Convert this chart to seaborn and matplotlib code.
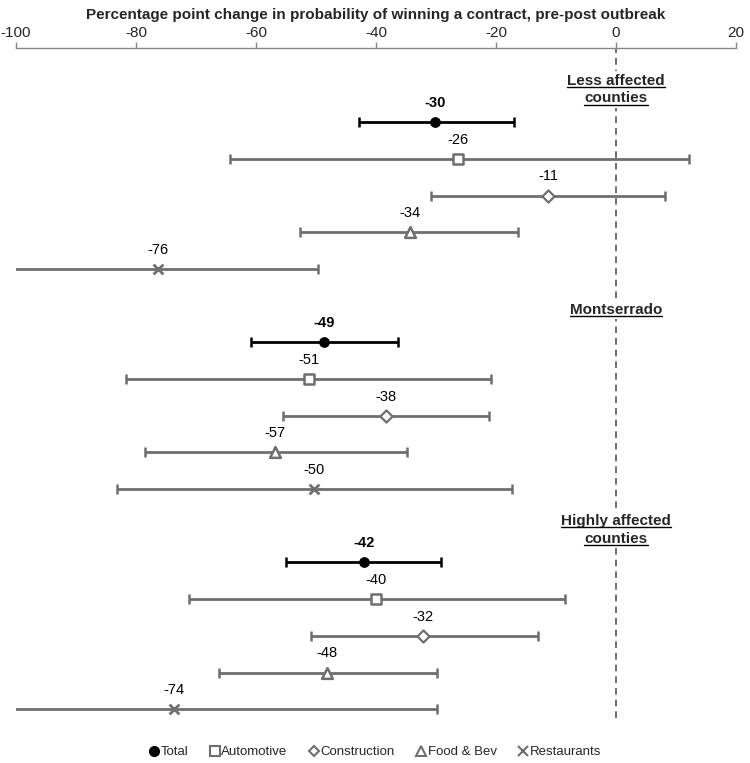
import matplotlib
matplotlib.use("Agg")
import matplotlib.pyplot as plt
import seaborn as sns
import pandas as pd
from matplotlib.lines import Line2D

# values (percentage points)
groups = ["Less affected\ncounties", "Montserrado", "Highly affected\ncounties"]
categories = ["Total", "Automotive", "Construction", "Food & Bev", "Restaurants"]

less_est = [-30.1, -26.3, -11.3, -34.4, -76.4]
less_lo = [-42.9, -64.4, -30.8, -52.6, -105.0]
less_hi = [-17.0, 12.1, 8.2, -16.3, -49.6]

mont_est = [-48.6, -51.2, -38.4, -56.8, -50.4]
mont_lo = [-60.9, -81.7, -55.5, -78.5, -83.1]
mont_hi = [-36.3, -20.9, -21.2, -34.9, -17.3]

high_est = [-42.0, -40.0, -32.1, -48.1, -73.6]
high_lo = [-55.0, -71.2, -50.9, -66.2, -105.0]
high_hi = [-29.2, -8.5, -13.0, -29.8, -29.8]

x_ticks = [-100, -80, -60, -40, -20, 0, 20]

sns.set_style("white")
plt.rcParams["font.family"] = ["Liberation Sans", "DejaVu Sans"]
plt.rcParams["axes.unicode_minus"] = False

GRAY = "#6f6f6f"
styles = {
    "Total": dict(marker="o", color="black", edgecolor="black", lw=0, s=60, bar="black"),
    "Automotive": dict(marker="s", color="white", edgecolor=GRAY, lw=1.8, s=60, bar=GRAY),
    "Construction": dict(marker="D", color="white", edgecolor=GRAY, lw=1.6, s=38, bar=GRAY),
    "Food & Bev": dict(marker="^", color="white", edgecolor=GRAY, lw=1.8, s=60, bar=GRAY),
    "Restaurants": dict(marker="x", color=GRAY, edgecolor=GRAY, lw=2.0, s=50, bar=GRAY),
}

rows = []
for g_i, (grp, est, lo, hi) in enumerate(zip(
        groups, [less_est, mont_est, high_est], [less_lo, mont_lo, high_lo],
        [less_hi, mont_hi, high_hi])):
    for c_i, cat in enumerate(categories):
        rows.append(dict(group=grp, category=cat, est=est[c_i], lo=lo[c_i],
                         hi=hi[c_i], row=g_i * 6 + c_i))
df = pd.DataFrame(rows)

fig = plt.figure(figsize=(7.5, 7.63), dpi=100)
ax = fig.add_axes([16 / 750, 1 - 718 / 763, 720 / 750, (718 - 48) / 763])

ax.axvline(0, color="#555555", lw=1.2, ls=(0, (4, 3)), zorder=1)

for cat in categories:
    st = styles[cat]
    sub = df[df["category"] == cat]
    ax.errorbar(sub["est"], sub["row"],
                xerr=[sub["est"] - sub["lo"], sub["hi"] - sub["est"]],
                fmt="none", ecolor=st["bar"], elinewidth=2.0,
                capsize=3.3, capthick=1.8, zorder=2)
    sns.scatterplot(data=sub, x="est", y="row", marker=st["marker"], s=st["s"],
                    color=st["color"], edgecolor=st["edgecolor"], linewidth=st["lw"],
                    ax=ax, zorder=3, legend=False)
    for _, r in sub.iterrows():
        ax.text(r["est"], r["row"] - 0.52, f"{r['est']:.0f}", ha="center", va="center",
                fontsize=10.5, color="black",
                fontweight="bold" if cat == "Total" else "normal")

ax.set_xlim(-100, 20)
ax.set_ylim(16.24, -2.02)
ax.set_xticks(x_ticks)
ax.set_yticks([])
ax.set_ylabel("")
ax.xaxis.tick_top()
ax.xaxis.set_label_position("top")
ax.set_xlabel("Percentage point change in probability of winning a contract, pre-post outbreak",
              fontsize=11, fontweight="bold", labelpad=5)
ax.tick_params(axis="x", direction="out", length=4, width=1, color="#888888",
               labelsize=11, pad=1.5, top=True, bottom=False)
for side in ["left", "right", "bottom"]:
    ax.spines[side].set_visible(False)
ax.spines["top"].set_color("#888888")
ax.spines["top"].set_linewidth(1.0)

# group headers, bold and underlined, centred on the zero line
header_texts = []
for g_i, grp in enumerate(groups):
    lines = grp.split("\n")
    centre = g_i * 6 - 0.94
    n = len(lines)
    for l_i, line in enumerate(lines):
        yc = centre + (l_i - (n - 1) / 2) * 0.49
        t = ax.text(0, yc + 0.16, line, ha="center", va="baseline",
                    fontsize=11, fontweight="bold", zorder=4,
                    bbox=dict(boxstyle="square,pad=0.15", fc="white", ec="none"))
        header_texts.append((t, yc + 0.16))

fig.canvas.draw()
renderer = fig.canvas.get_renderer()
inv = fig.transFigure.inverted()
for t, base in header_texts:
    bb = t.get_window_extent(renderer)
    _, y_disp = ax.transData.transform((0, base))
    y_disp -= 2.5
    (x0, y0), (x1, _) = inv.transform([(bb.x0, y_disp), (bb.x1, y_disp)])
    fig.add_artist(Line2D([x0, x1], [y0, y0], color="black", lw=1.0))

handles = []
for cat in categories:
    st = styles[cat]
    handles.append(Line2D([], [], ls="none", marker=st["marker"],
                          markerfacecolor=st["color"] if st["marker"] != "x" else GRAY,
                          markeredgecolor=st["edgecolor"], markeredgewidth=1.5,
                          color=st["edgecolor"], markersize=6.5 if st["marker"] != "D" else 5,
                          label=cat))
fig.legend(handles=handles, loc="center", bbox_to_anchor=(375 / 750, 1 - 752 / 763),
           ncol=5, frameon=False, handlelength=0.8, handletextpad=0.1,
           columnspacing=1.6, prop={"family": "Liberation Sans", "size": 9.5})

fig.savefig("out.png", dpi=100)
plt.close(fig)
